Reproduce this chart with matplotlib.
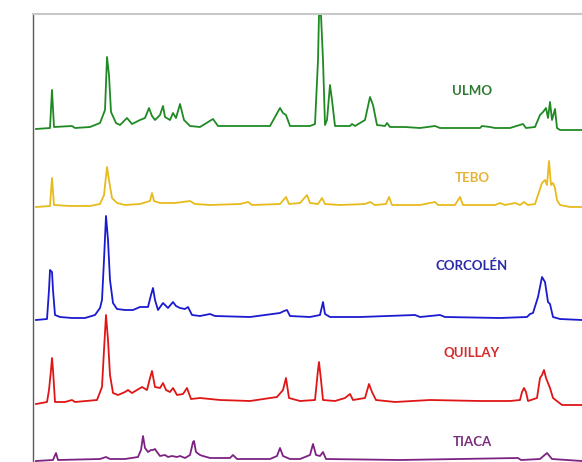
import matplotlib
matplotlib.use("Agg")
import matplotlib.pyplot as plt

# Retention time (min) and relative signal for each chromatogram
names = ["ULMO", "TEBO", "CORCOLÉN", "QUILLAY", "TIACA"]

ulmo_t = [0.3, 1.7, 1.9, 2.1, 3.9, 4.2, 5.7, 6.7, 7.2, 7.4, 7.6, 7.8, 8.3, 8.7, 9.4, 9.9, 10.7, 11.2,
          11.6, 11.9, 12.2, 12.7, 13.0, 13.2, 13.7, 14.0, 14.3, 14.7, 15.1, 15.7, 16.7, 18.0, 18.5,
          20.7, 23.7, 24.7, 25.0, 25.3, 25.7, 27.7, 28.2, 28.5, 28.6, 28.8, 29.0, 29.2, 29.4, 29.7,
          29.9, 30.2, 31.7, 31.9, 32.2, 33.2, 33.7, 34.0, 34.4, 35.2, 35.4, 35.7, 37.2, 38.7, 40.2,
          40.7, 44.7, 44.9, 45.7, 46.2, 47.7, 49.0, 49.3, 50.2, 50.7, 51.0, 51.3, 51.5, 51.7, 51.9,
          52.2, 52.4, 52.7, 54.9]
ulmo_s = [0.0, 0.1, 3.9, 0.2, 0.3, 0.1, 0.2, 0.6, 1.9, 7.2, 5.4, 1.7, 0.6, 0.4, 1.1, 0.5, 0.9, 1.1,
          2.1, 1.3, 0.9, 1.4, 2.3, 1.2, 0.9, 1.6, 1.1, 2.5, 0.9, 0.3, 0.2, 1.0, 0.3,
          0.3, 0.3, 2.1, 1.6, 1.4, 0.3, 0.3, 0.5, 6.9, 11.4, 11.4, 6.9, 0.4, 0.9, 4.4,
          2.9, 0.3, 0.3, 0.5, 0.3, 0.9, 3.2, 2.4, 0.4, 0.3, 0.6, 0.2, 0.2, 0.1, 0.3,
          0.1, 0.1, 0.3, 0.2, 0.1, 0.1, 0.5, 0.1, 0.2, 1.4, 1.7, 2.1, 1.1, 2.7, 0.9,
          2.0, 0.1, -0.1, -0.1]

tebo_t = [0.3, 1.7, 1.9, 2.1, 3.7, 5.7, 6.7, 7.1, 7.4, 7.6, 7.9, 8.4, 9.2, 10.7, 11.7, 11.9, 12.1,
          12.7, 14.2, 15.7, 16.2, 17.7, 20.7, 21.5, 21.9, 24.7, 25.3, 25.6, 26.7, 27.4, 27.7, 28.5,
          28.9, 29.2, 30.7, 33.2, 33.7, 34.2, 35.3, 35.6, 35.9, 38.7, 40.2, 40.5, 42.2, 42.7, 43.0,
          46.2, 46.7, 47.2, 48.2, 48.7, 49.1, 49.5, 50.2, 50.5, 50.9, 51.2, 51.4, 51.6, 51.8, 52.0,
          52.2, 52.4, 52.7, 53.7, 54.9]
tebo_s = [0.0, 0.1, 2.9, 0.2, 0.1, 0.1, 0.3, 1.2, 4.0, 2.7, 0.9, 0.4, 0.2, 0.3, 0.6, 1.4, 0.6,
          0.4, 0.4, 0.6, 0.3, 0.2, 0.3, 0.5, 0.2, 0.3, 1.0, 0.3, 0.4, 1.2, 0.4, 0.3,
          0.9, 0.3, 0.2, 0.3, 0.5, 0.2, 0.3, 1.0, 0.2, 0.2, 0.5, 0.2, 0.2, 1.0, 0.2,
          0.2, 0.4, 0.2, 0.4, 0.2, 0.5, 0.2, 0.3, 1.2, 2.4, 2.7, 2.2, 4.6, 2.2, 2.4,
          1.9, 0.7, 0.2, 0.0, 0.0]

corcolen_t = [0.3, 1.4, 1.6, 1.7, 1.9, 2.0, 2.2, 2.7, 3.9, 5.2, 6.2, 6.7, 6.9, 7.1, 7.3, 7.5, 7.7,
              8.0, 8.4, 9.2, 10.0, 10.7, 11.5, 11.8, 12.0, 12.2, 12.5, 13.0, 13.5, 14.0, 14.3, 14.7,
              15.2, 15.5, 15.9, 16.7, 17.7, 18.2, 21.7, 24.7, 25.1, 25.4, 25.7, 27.7, 28.7, 29.0,
              29.2, 29.7, 32.7, 38.2, 38.7, 40.7, 41.2, 46.7, 49.4, 49.7, 50.0, 50.5, 50.9, 51.2,
              51.5, 51.7, 52.0, 52.7, 54.9]
corcolen_s = [-0.2, -0.1, 2.8, 4.8, 4.6, 2.8, 0.3, 0.1, 0.0, 0.0, 0.3, 1.0, 1.8, 5.8, 10.2, 7.8, 3.8,
              1.5, 0.9, 0.8, 0.8, 1.1, 1.1, 2.3, 3.0, 1.8, 0.8, 1.5, 1.0, 1.6, 1.2, 1.0,
              0.9, 1.1, 0.3, 0.2, 0.4, 0.2, 0.1, 0.5, 0.7, 0.8, 0.2, 0.1, 0.3, 1.6,
              0.4, 0.1, 0.1, 0.3, 0.1, 0.3, 0.1, 0.0, 0.1, 0.4, 0.5, 2.1, 4.1, 3.6,
              1.6, 1.4, 0.1, -0.1, -0.2]

quillay_t = [0.3, 1.4, 1.6, 1.8, 1.9, 2.0, 2.2, 3.2, 3.9, 4.2, 6.4, 6.9, 7.1, 7.3, 7.5, 7.7, 8.0,
             8.5, 9.2, 9.5, 9.9, 10.9, 11.4, 11.7, 11.9, 12.2, 12.7, 13.0, 13.3, 13.7, 14.0, 14.4,
             15.0, 15.4, 15.8, 16.7, 18.7, 21.7, 24.4, 25.0, 25.3, 25.6, 26.7, 28.2, 28.5, 28.6,
             28.8, 29.0, 30.2, 31.2, 31.7, 32.0, 33.2, 33.6, 33.9, 34.3, 36.2, 39.7, 44.7, 47.7,
             48.7, 48.9, 49.1, 49.3, 49.5, 50.4, 50.7, 50.9, 51.1, 51.3, 51.7, 52.0, 52.9, 54.9]
quillay_s = [-0.1, 0.1, 1.3, 3.3, 4.5, 3.3, 0.1, 0.1, 0.3, 0.1, 0.3, 1.6, 5.3, 8.8, 6.3, 2.8, 1.0,
             0.8, 1.1, 1.3, 1.0, 1.6, 1.3, 2.5, 3.2, 1.6, 1.5, 2.0, 1.3, 1.1, 1.5, 0.8,
             0.9, 1.5, 0.4, 0.5, 0.3, 0.2, 0.6, 1.3, 2.5, 0.5, 0.2, 0.3, 3.3, 4.1,
             2.3, 0.3, 0.2, 0.5, 0.9, 0.3, 0.5, 1.9, 1.1, 0.3, 0.1, 0.3, 0.2, 0.2,
             0.3, 1.1, 1.5, 1.1, 0.2, 0.5, 2.5, 2.8, 3.3, 2.5, 1.5, 0.5, -0.2, -0.2]

tiaca_t = [0.3, 2.0, 2.3, 2.5, 6.7, 7.3, 7.7, 9.2, 10.5, 10.8, 11.0, 11.2, 11.5, 11.8, 12.0, 12.2,
           12.4, 12.7, 13.2, 13.5, 13.9, 14.4, 14.7, 15.2, 15.7, 16.0, 16.1, 16.3, 16.7, 17.0, 17.7,
           19.7, 20.0, 20.4, 23.7, 24.4, 24.7, 25.0, 25.7, 26.7, 27.7, 28.0, 28.3, 28.7, 29.0, 29.3,
           36.7, 48.5, 48.8, 50.7, 51.4, 51.9, 54.9]
tiaca_s = [-0.1, 0.0, 0.7, 0.0, 0.1, 0.3, 0.1, 0.1, 0.3, 1.0, 2.4, 1.2, 0.8, 1.0, 1.0, 1.1,
           0.8, 0.4, 0.5, 0.3, 0.4, 0.3, 0.4, 0.2, 0.5, 1.8, 1.9, 0.8, 0.5, 0.4, 0.2,
           0.2, 0.5, 0.1, 0.1, 0.4, 1.2, 0.4, 0.1, 0.1, 0.5, 1.6, 0.5, 0.4, 0.8, 0.1,
           0.0, 0.2, 0.0, 0.1, 0.7, 0.1, -0.1]

# Layout / styling
offsets = [33.3, 25.5, 14.4, 5.9, 0.2]
label_y = [37.1, 28.4, 19.6, 10.9, 2.0]
label_x = 43.9
line_colors = ["#1f8a24", "#e8bb1c", "#1a1ad0", "#e01515", "#7d2283"]
text_colors = ["#2f7a33", "#e6b233", "#2a2aa8", "#d42a2a", "#7a2d7e"]

series = [(ulmo_t, ulmo_s), (tebo_t, tebo_s), (corcolen_t, corcolen_s),
          (quillay_t, quillay_s), (tiaca_t, tiaca_s)]

W, H = 582, 462
fig = plt.figure(figsize=(W / 100, H / 100), dpi=100)
fig.patch.set_facecolor("white")
ax = fig.add_axes([33 / W, -23 / H, 567 / W, 471 / H])
ax.set_xlim(0, 56.7)
ax.set_ylim(-2.3, 44.8)

for (t, s), off, c in zip(series, offsets, line_colors):
    ax.plot(t, [v + off for v in s], color=c, lw=1.3, solid_joinstyle="round", clip_on=False)

for name, ly, tc in zip(names, label_y, text_colors):
    ax.text(label_x, ly, name, color=tc, fontsize=9.5, fontweight="bold",
            family=["Lato", "DejaVu Sans"], ha="center", va="center")

ax.set_xticks([])
ax.set_yticks([])
ax.spines["right"].set_visible(False)
ax.spines["bottom"].set_visible(False)
ax.spines["left"].set_color("#5a5a5a")
ax.spines["left"].set_linewidth(1.0)
ax.spines["top"].set_color("#c8c8c8")
ax.spines["top"].set_linewidth(1.5)

fig.savefig("out.png", dpi=100)
